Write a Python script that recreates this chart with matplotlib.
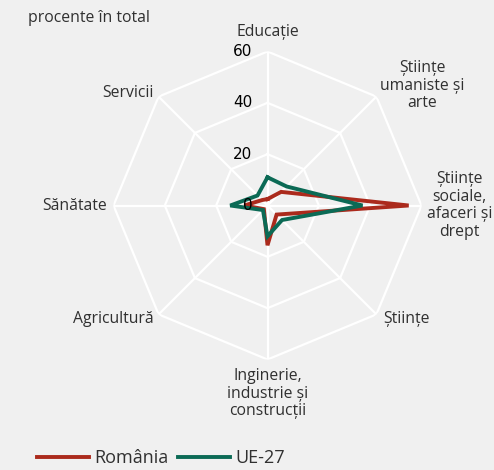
import numpy as np
import matplotlib
matplotlib.use("Agg")
import matplotlib.pyplot as plt

categories = [
    "Educație",
    "Științe\numaniste și\narte",
    "Științe\nsociale,\nafaceri și\ndrept",
    "Științe",
    "Inginerie,\nindustrie și\nconstrucții",
    "Agricultură",
    "Sănătate",
    "Servicii",
]
romania = [2.5, 7.5, 55, 5, 15.5, 2, 9, 3]
ue27 = [11, 10.5, 37, 8, 12, 2.5, 14.5, 5.5]
rings = [0, 20, 40, 60]

# label placement: (dx, dy) in pixels from the outer vertex, ha, va
label_pos = [
    ((0, 11), "center", "bottom"),
    ((46, 11), "center", "center"),
    ((38, 0), "center", "center"),
    ((7, -5), "left", "center"),
    ((0, -9), "center", "top"),
    ((-5, -5), "right", "center"),
    ((-7, 0), "right", "center"),
    ((-5, 4), "right", "center"),
]

bg = "#f0f0f0"
red = "#ab2a1c"
green = "#0b6a55"
txt = "#303030"

plt.rcParams["font.family"] = ["Open Sans", "DejaVu Sans"]

W, H = 494, 470
fig = plt.figure(figsize=(W / 100, H / 100), dpi=100, facecolor=bg)
cx, cy, R = 267.5, 205.5, 154
ax = fig.add_axes([(cx - R) / W, (H - cy - R) / H, 2 * R / W, 2 * R / H],
                  projection="polar")
ax.set_facecolor(bg)
ax.patch.set_alpha(0)
ax.set_theta_offset(np.pi / 2)
ax.set_theta_direction(-1)
ax.set_ylim(0, 60)
ax.grid(False)
ax.spines["polar"].set_visible(False)
ax.set_xticks([])
ax.set_yticks([])

n = len(categories)
angles = np.linspace(0, 2 * np.pi, n, endpoint=False)
closed = np.append(angles, angles[0])

for r in rings[1:]:
    ax.plot(closed, [r] * (n + 1), color="white", lw=1.6, zorder=1)
for a in angles:
    ax.plot([a, a], [0, 60], color="white", lw=1.6, zorder=1)

ax.plot(closed, romania + romania[:1], color=red, lw=2.8, label="România",
        zorder=3, solid_joinstyle="miter")
ax.plot(closed, ue27 + ue27[:1], color=green, lw=2.8, label="UE-27",
        zorder=4, solid_joinstyle="miter")

px = 72 / 100
for r in rings:
    ax.annotate(str(r), xy=(0, r), xytext=(-15 * px, 0), textcoords="offset points",
                ha="right", va="center", fontsize=11, color="black",
                family="Liberation Sans Narrow", zorder=5)

for a, lab, ((dx, dy), ha, va) in zip(angles, categories, label_pos):
    ax.annotate(lab, xy=(a, 60), xytext=(dx * px, dy * px), textcoords="offset points",
                ha=ha, va=va, fontsize=11.3, color=txt, multialignment="center",
                linespacing=1.12, annotation_clip=False)

fig.text(28 / W, 1 - 18 / H, "procente în total", ha="left", va="center",
         fontsize=11.3, color=txt)

leg = fig.legend(loc="lower left", bbox_to_anchor=(28 / W, -6 / H), ncol=2,
                 frameon=False, fontsize=13, handlelength=2.9, handletextpad=0.25,
                 columnspacing=0.55, borderaxespad=0.1)
for t in leg.get_texts():
    t.set_color(txt)

fig.savefig("out.png", dpi=100, facecolor=bg)
